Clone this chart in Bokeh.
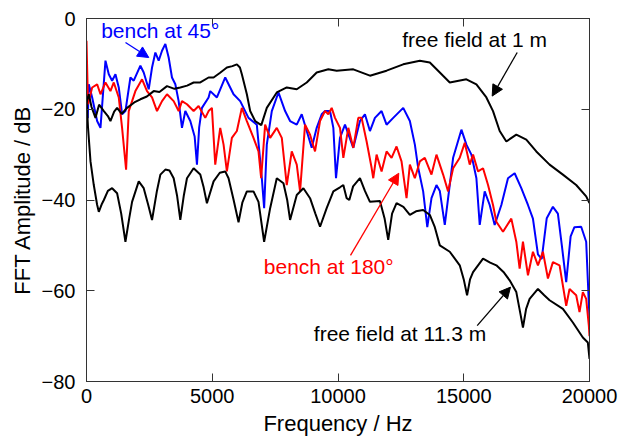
from bokeh.plotting import figure
from bokeh.models import Range1d, FixedTicker, LinearAxis, Arrow, NormalHead, Label
from bokeh.embed import file_html
from bokeh.resources import INLINE

FONT = "Liberation Sans"

# ---- data ----
x_ticks = [0, 5000, 10000, 15000, 20000]
y_ticks = [-80, -60, -40, -20, 0]
y_tick_labels = {-80: "\u221280", -60: "\u221260", -40: "\u221240", -20: "\u221220", 0: "0"}

ff1_freq = [0, 91, 200, 357, 500, 690, 850, 952, 1100, 1217, 1400, 1614, 1900, 2143, 2400, 2672,
            2900, 3201, 3500, 3730, 4000, 4259, 4524, 4854, 5053, 5300, 5582, 5800, 5979, 6100,
            6177, 6376, 6508, 6706, 6950, 7169, 7566, 7963, 8360, 8757, 9153, 9616, 9947, 10608,
            11270, 11931, 12593, 13254, 13651, 14048, 14444, 15106, 15503, 15900, 16164, 16429,
            16693, 17090, 17487, 17884, 18413, 18942, 19471, 19868, 20000]
ff1_db = [-18.5, -16.7, -19.5, -21.9, -19.0, -20.4, -21.5, -22.6, -20.5, -19.7, -21.0, -19.7, -18.5,
          -17.8, -17.2, -16.0, -16.2, -14.9, -15.5, -15.2, -14.8, -14.1, -14.1, -13.0, -13.0, -12.0,
          -10.8, -10.5, -10.1, -10.8, -12.3, -16.7, -20.4, -22.6, -23.5, -19.7, -16.3, -15.2, -15.6,
          -14.1, -11.9, -11.2, -11.5, -11.2, -12.6, -11.5, -10.1, -9.3, -9.7, -11.9, -14.1, -13.4,
          -14.5, -17.4, -20.4, -24.8, -27.1, -25.6, -26.7, -29.3, -32.2, -34.4, -36.7, -39.2, -40.7]

ff11_freq = [0, 60, 159, 290, 420, 489, 600, 690, 850, 1019, 1217, 1380, 1548, 1700, 1812, 2077,
             2275, 2450, 2606, 2800, 2937, 3135, 3300, 3466, 3600, 3730, 3870, 3995, 4259, 4524,
             4650, 4788, 5053, 5300, 5516, 5648, 5850, 6045, 6200, 6376, 6640, 6839, 7063, 7302,
             7566, 7831, 7980, 8095, 8360, 8624, 8889, 9100, 9286, 9550, 9815, 10079, 10212, 10344,
             10450, 10600, 10873, 11070, 11270, 11667, 11850, 11997, 12150, 12328, 12600, 12857,
             13100, 13386, 13651, 13850, 14048, 14444, 14841, 15000, 15132, 15250, 15370, 15767,
             16050, 16296, 16600, 16825, 17090, 17250, 17354, 17480, 17619, 17950, 18200, 18413,
             18942, 19339, 19735, 19934, 20000]
ff11_db = [-17.5, -24.0, -31.5, -36.7, -41.0, -42.6, -41.0, -40.0, -38.0, -37.4, -38.5, -43.0, -49.2,
           -44.0, -40.4, -35.9, -37.4, -41.0, -44.4, -38.0, -34.4, -33.3, -33.5, -35.2, -39.0, -44.4,
           -39.0, -35.2, -33.0, -34.4, -37.0, -40.7, -35.9, -34.0, -33.7, -35.2, -40.0, -44.9, -40.5,
           -38.1, -38.1, -40.4, -49.2, -41.8, -35.2, -36.3, -40.0, -44.4, -38.9, -37.4, -39.6, -43.0,
           -45.9, -41.8, -38.1, -37.2, -36.7, -39.6, -40.0, -37.0, -35.2, -38.0, -40.4, -40.2, -44.0,
           -48.8, -43.0, -40.7, -41.5, -43.3, -42.5, -42.2, -43.3, -46.0, -50.0, -51.4, -54.4, -57.5,
           -61.0, -57.5, -55.9, -52.9, -53.8, -54.4, -56.0, -57.7, -60.3, -65.0, -68.1, -64.0, -61.8,
           -59.6, -61.0, -62.1, -64.0, -67.0, -70.3, -71.4, -75.0]

b45_freq = [0, 50, 91, 225, 423, 556, 754, 886, 1019, 1151, 1283, 1415, 1548, 1746, 1878, 2143,
            2275, 2474, 2606, 2738, 2870, 3003, 3135, 3267, 3399, 3532, 3664, 3796, 3929, 4127,
            4300, 4392, 4480, 4590, 4854, 4921, 5185, 5516, 5847, 6111, 6442, 6772, 6971, 7063,
            7169, 7368, 7632, 7897, 8095, 8360, 8558, 8757, 8955, 9153, 9352, 9484, 9683, 9815,
            9921, 10079, 10278, 10608, 10873, 11071, 11270, 11468, 11733, 11931, 12196, 12593,
            12857, 13056, 13188, 13386, 13550, 13717, 13915, 14048, 14246, 14577, 14907, 15106,
            15304, 15503, 15635, 15833, 16032, 16230, 16495, 16759, 17024, 17288, 17553, 17751,
            17950, 18100, 18300, 18545, 18743, 18900, 19074, 19250, 19400, 19669, 19868, 20000]
b45_db = [-13.5, -22.0, -14.5, -17.4, -22.6, -24.1, -9.3, -12.3, -13.7, -12.3, -15.2, -21.1, -20.4,
          -13.0, -13.7, -10.4, -11.9, -15.6, -10.8, -7.5, -9.3, -7.1, -5.6, -8.6, -13.0, -14.5,
          -18.2, -24.1, -20.4, -22.6, -26.0, -32.2, -24.0, -19.7, -17.4, -16.0, -17.4, -13.0, -16.7,
          -18.2, -21.9, -23.4, -35.2, -41.8, -27.8, -20.4, -16.3, -20.4, -22.6, -23.4, -21.1, -24.8,
          -28.5, -24.1, -21.1, -20.4, -20.4, -24.1, -35.2, -26.3, -23.4, -28.5, -22.6, -21.1, -24.8,
          -21.9, -20.4, -23.4, -21.9, -19.7, -22.6, -27.8, -32.9, -38.1, -46.0, -39.6, -36.7, -38.0,
          -45.5, -30.7, -24.5, -27.8, -30.0, -35.2, -45.5, -38.1, -41.1, -45.5, -41.1, -35.2, -34.1,
          -37.4, -41.1, -44.1, -52.0, -53.0, -44.0, -41.5, -43.0, -50.0, -58.1, -48.0, -46.0, -45.9,
          -49.2, -66.2]

r180_freq = [0, 60, 225, 423, 556, 754, 952, 1085, 1283, 1415, 1574, 1680, 1944, 2209, 2407, 2606,
             2804, 3003, 3201, 3466, 3664, 3796, 3995, 4259, 4457, 4722, 4854, 4987, 5119, 5317,
             5450, 5582, 5780, 5979, 6177, 6376, 6640, 6839, 6944, 7103, 7302, 7566, 7765, 7963,
             8161, 8360, 8492, 8690, 8889, 9087, 9286, 9484, 9616, 9749, 9881, 10079, 10212, 10410,
             10608, 10807, 10939, 11138, 11336, 11402, 11534, 11733, 11931, 12130, 12328, 12526,
             12725, 12857, 13056, 13254, 13452, 13717, 13915, 14180, 14378, 14577, 14841, 15040,
             15238, 15370, 15569, 15767, 15966, 16164, 16296, 16561, 16891, 17090, 17222, 17354,
             17553, 17751, 17950, 18148, 18347, 18545, 18810, 19074, 19206, 19471, 19603, 19735,
             19868, 19974, 20000]
r180_db = [-4.9, -18.9, -15.2, -14.5, -16.7, -14.1, -16.0, -14.1, -17.4, -24.1, -33.3, -20.4, -16.0,
           -13.4, -16.0, -17.4, -20.4, -18.2, -16.7, -18.2, -20.4, -18.2, -18.9, -20.4, -19.3, -21.9,
           -20.4, -19.7, -32.2, -24.1, -27.8, -33.7, -26.3, -24.8, -19.7, -22.6, -26.3, -29.3, -35.2,
           -23.4, -26.3, -24.1, -26.3, -36.7, -29.3, -32.2, -38.1, -23.4, -25.6, -29.3, -22.6, -20.4,
           -21.1, -19.7, -21.9, -24.1, -30.7, -24.1, -28.5, -21.9, -21.9, -27.1, -32.9, -35.2, -30.0,
           -33.7, -29.3, -30.7, -28.2, -31.5, -39.6, -32.2, -35.2, -31.5, -30.7, -34.4, -30.0, -34.4,
           -38.1, -33.0, -30.7, -27.4, -32.2, -30.0, -33.7, -33.0, -36.7, -41.1, -44.8, -47.0, -44.1,
           -49.2, -55.1, -49.2, -56.6, -51.4, -54.4, -51.4, -57.3, -53.7, -54.4, -63.3, -59.6, -61.0,
           -64.7, -60.3, -61.8, -67.7, -70.0]

# ---- figure ----
p = figure(width=619, height=439, output_backend="svg", toolbar_location=None,
           x_range=Range1d(0, 20000), y_range=Range1d(-80, 0),
           min_border_left=86, min_border_right=30, min_border_top=18, min_border_bottom=58)
p.grid.visible = False
p.outline_line_color = "#333333"
p.outline_line_width = 1
p.background_fill_color = "white"
p.border_fill_color = "white"

def style_axis(ax):
    ax.major_tick_in = 8
    ax.major_tick_out = 0
    ax.minor_tick_line_color = None
    ax.axis_line_color = "#333333"
    ax.major_tick_line_color = "#333333"
    ax.major_label_text_font = FONT
    ax.major_label_text_color = "black"
    ax.axis_label_text_font = FONT
    ax.axis_label_text_font_style = "normal"
    ax.axis_label_text_color = "black"
    ax.major_label_text_font_size = "20px"
    ax.axis_label_text_font_size = "22px"

xa = p.xaxis[0]
ya = p.yaxis[0]
xa.ticker = FixedTicker(ticks=x_ticks)
ya.ticker = FixedTicker(ticks=y_ticks)
ya.major_label_overrides = y_tick_labels
xa.axis_label = "Frequency / Hz"
ya.axis_label = "FFT Amplitude / dB"
style_axis(xa)
style_axis(ya)
xa.major_label_standoff = 7
xa.axis_label_standoff = 5
ya.major_label_standoff = 11
ya.axis_label_standoff = 4

top = LinearAxis(ticker=FixedTicker(ticks=x_ticks))
right = LinearAxis(ticker=FixedTicker(ticks=y_ticks))
style_axis(top)
style_axis(right)
top.major_label_overrides = {t: "" for t in x_ticks}
right.major_label_overrides = {t: "" for t in y_ticks}
top.major_label_standoff = 0
right.major_label_standoff = 0
p.add_layout(top, "above")
p.add_layout(right, "right")

# ---- lines ----
p.line(b45_freq, b45_db, line_color="#0000ff", line_width=2)
p.line(r180_freq, r180_db, line_color="#ff0000", line_width=2)
p.line(ff1_freq, ff1_db, line_color="black", line_width=2)
p.line(ff11_freq, ff11_db, line_color="black", line_width=2)

# ---- annotations ----
def add_label(x, y, text, color):
    p.add_layout(Label(x=x, y=y, text=text, text_font=FONT, text_font_size="21px",
                       text_color=color, text_baseline="alphabetic", text_align="left"))

def add_arrow(x0, y0, x1, y1, color):
    p.add_layout(Arrow(end=NormalHead(size=11, fill_color=color, line_color=color),
                       x_start=x0, y_start=y0, x_end=x1, y_end=y1,
                       line_color=color, line_width=1.3))

add_label(584, -2.6, "bench at 45\u00b0", "#0000ff")
add_arrow(1551, -5.3, 2477, -8.6, "#0000ff")

add_label(12552, -4.6, "free field at 1 m", "black")
add_arrow(17125, -7.5, 16131, -17.1, "black")

add_label(7050, -54.6, "bench at 180\u00b0", "#ff0000")
add_arrow(10497, -52.2, 12417, -34.1, "#ff0000")

add_label(9038, -69.4, "free field at 11.3 m", "black")
add_arrow(15535, -67.7, 16859, -59.2, "black")

open("out.html", "w").write(file_html(p, INLINE))
